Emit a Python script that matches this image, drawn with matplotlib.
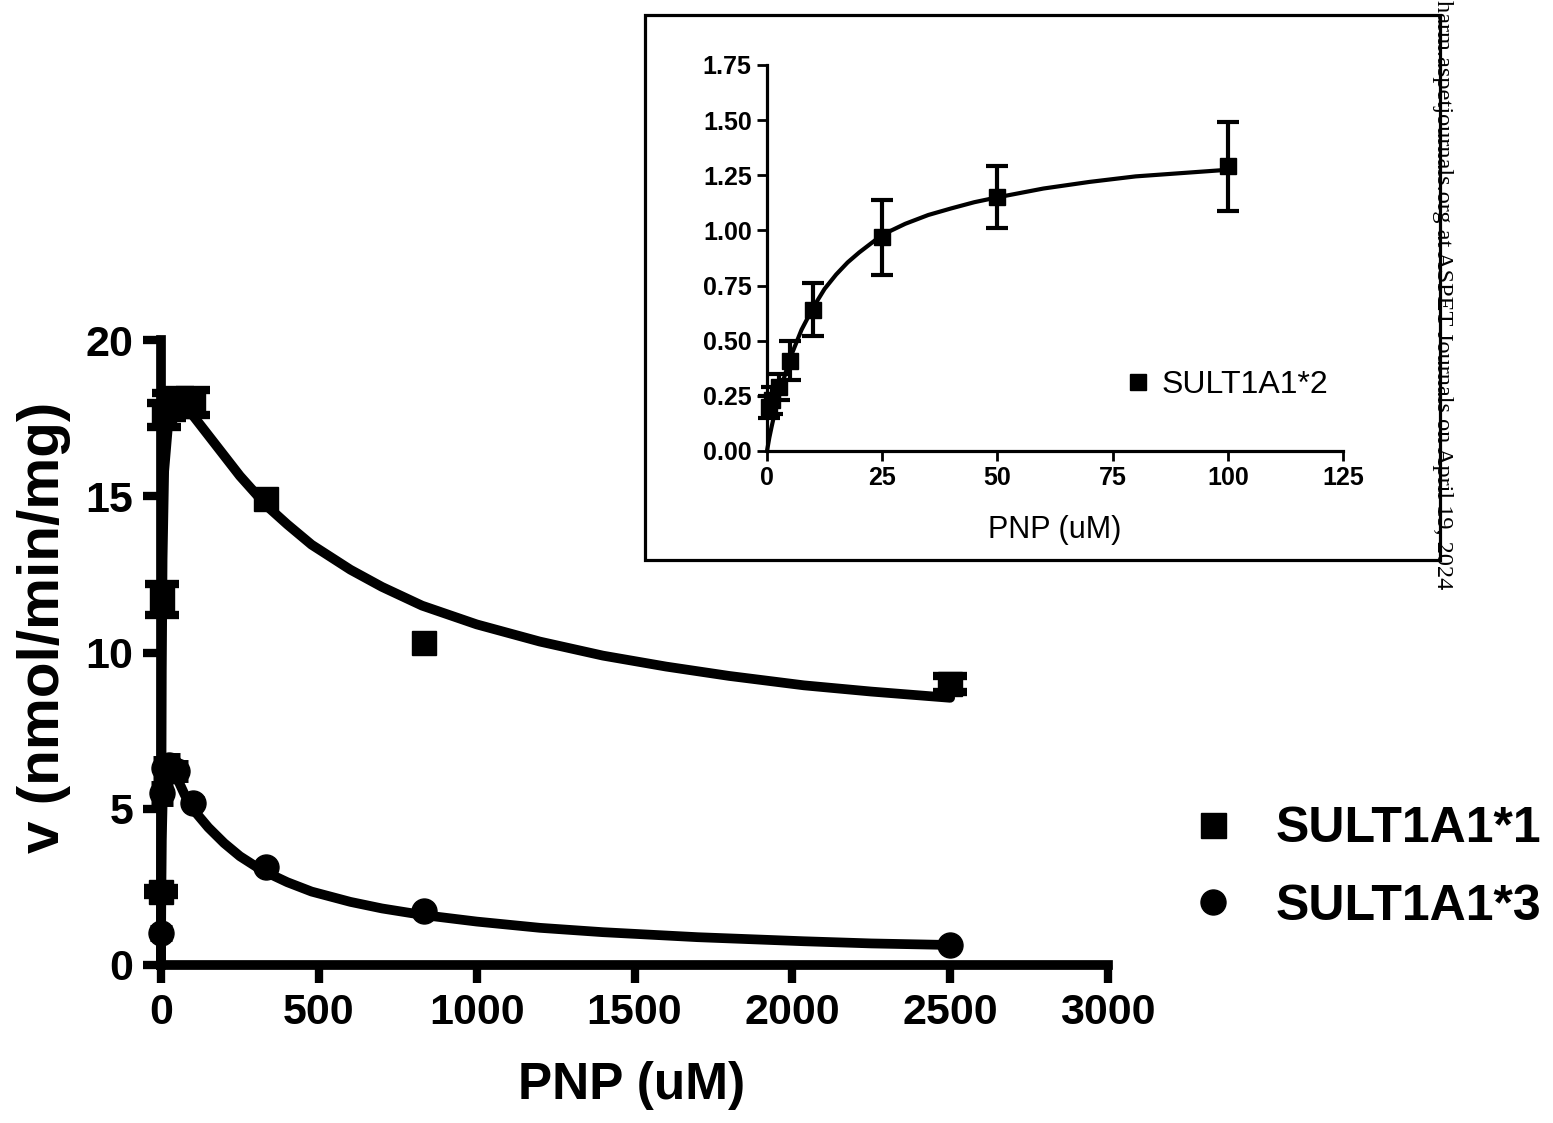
import matplotlib
matplotlib.use('Agg')
import matplotlib.pyplot as plt
from matplotlib.lines import Line2D
from matplotlib.patches import Rectangle

plt.rcParams['font.family'] = ['Liberation Sans', 'DejaVu Sans']

# main plot: SULT1A1*1 (squares) and SULT1A1*3 (circles)
pnp = [0.5, 2.5, 10, 25, 50, 100, 333, 833, 2500]
v_star1 = [2.35, 11.7, 17.6, 17.9, 18.0, 18.0, 14.9, 10.3, 9.0]
err_star1 = [0.1, 0.5, 0.4, 0.4, 0.4, 0.4, 0.0, 0.0, 0.25]
v_star3 = [1.03, 5.5, 6.3, 6.4, 6.2, 5.2, 3.14, 1.72, 0.64]
err_star3 = [0.15, 0.3, 0.3, 0.3, 0.25, 0.1, 0.1, 0.1, 0.1]

# fitted curves
fit1_x = [0, 0.5, 1, 2.5, 5, 10, 25, 50, 75, 100, 150, 200, 250, 334, 400, 477,
          600, 700, 827, 1000, 1200, 1400, 1600, 1800, 2036, 2250, 2500]
fit1_y = [0, 2.6, 4.7, 9.4, 13.0, 15.8, 17.6, 18.0, 17.9, 17.6, 16.95, 16.3, 15.65,
          14.7, 14.1, 13.45, 12.65, 12.1, 11.5, 10.9, 10.35, 9.9, 9.55, 9.25, 8.95, 8.75, 8.55]
fit3_x = [0, 0.5, 1, 2.5, 5, 10, 25, 50, 75, 100, 150, 200, 250, 318, 400, 477,
          600, 700, 830, 1000, 1200, 1400, 1700, 2036, 2250, 2500]
fit3_y = [0, 1.3, 2.3, 4.0, 5.1, 5.8, 6.2, 6.0, 5.45, 5.0, 4.4, 3.9, 3.48, 3.04, 2.65,
          2.35, 2.02, 1.81, 1.6, 1.39, 1.19, 1.05, 0.89, 0.76, 0.69, 0.64]

# inset: SULT1A1*2
pnp2 = [0.5, 1, 2.5, 5, 10, 25, 50, 100]
v_star2 = [0.20, 0.23, 0.29, 0.41, 0.64, 0.97, 1.15, 1.29]
err_star2 = [0.05, 0.06, 0.06, 0.09, 0.12, 0.17, 0.14, 0.20]
fit2_x = [0, 0.5, 1, 2.5, 5, 7.5, 10, 12.5, 15, 17.5, 20, 25, 30, 35, 40, 45, 50,
          60, 70, 80, 90, 100]
fit2_y = [0, 0.06, 0.11, 0.25, 0.42, 0.55, 0.65, 0.735, 0.80, 0.855, 0.90, 0.98,
          1.03, 1.07, 1.10, 1.128, 1.15, 1.19, 1.22, 1.245, 1.26, 1.275]

W, H = 1553, 1123
fig = plt.figure(figsize=(W / 100, H / 100), dpi=100)

def box(l, t, r, b):
    return [l / W, 1 - b / H, (r - l) / W, (b - t) / H]

def with_err(xs, ys, es):
    keep = [i for i in range(len(xs)) if es[i] > 0]
    return [xs[i] for i in keep], [ys[i] for i in keep], [es[i] for i in keep]

ax = fig.add_axes(box(161, 340, 1108, 965))
ax.plot(fit1_x, fit1_y, color='black', lw=7, clip_on=False, solid_capstyle='round')
ax.plot(fit3_x, fit3_y, color='black', lw=7, clip_on=False, solid_capstyle='round')
ex, ey, ee = with_err(pnp, v_star1, err_star1)
ax.errorbar(ex, ey, yerr=ee, fmt='none', ecolor='black',
            elinewidth=5, capsize=12, capthick=6, clip_on=False)
ax.plot(pnp, v_star1, 's', color='black', ms=17, clip_on=False)
ex, ey, ee = with_err(pnp, v_star3, err_star3)
ax.errorbar(ex, ey, yerr=ee, fmt='none', ecolor='black',
            elinewidth=5, capsize=8, capthick=5, clip_on=False)
ax.plot(pnp, v_star3, 'o', color='black', ms=18, clip_on=False)
ax.set_xlim(0, 3000)
ax.set_ylim(0, 20)
ax.set_xticks(range(0, 3001, 500))
ax.set_yticks(range(0, 21, 5))
for s in ['top', 'right']:
    ax.spines[s].set_visible(False)
for s in ['left', 'bottom']:
    ax.spines[s].set_linewidth(7)
ax.tick_params(direction='out', length=13, width=6, labelsize=31, pad=7)
for lab in ax.get_xticklabels() + ax.get_yticklabels():
    lab.set_fontweight('bold')

fig.text(632 / W, 1 - 1085 / H, 'PNP (uM)', fontsize=37, fontweight='bold',
         ha='center', va='center')
fig.text(44 / W, 1 - 627 / H, 'v (nmol/min/mg)', fontsize=42, fontweight='bold',
         ha='center', va='center', rotation=90)

handles = [Line2D([], [], marker='s', ls='none', color='black', ms=18),
           Line2D([], [], marker='o', ls='none', color='black', ms=18)]
fig.legend(handles, ['SULT1A1*1', 'SULT1A1*3'], loc='center left',
           bbox_to_anchor=(1188 / W, 1 - 868 / H), frameon=False, borderpad=0,
           borderaxespad=0, handlelength=1.0, handletextpad=0.75, labelspacing=0.62,
           prop={'size': 36, 'weight': 'bold'})

# inset frame
fig.add_artist(Rectangle((645 / W, 1 - 560 / H), 795 / W, 545 / H,
                         transform=fig.transFigure, fill=True, facecolor='white',
                         edgecolor='black', lw=2.3, zorder=1))

ins = fig.add_axes(box(767, 65, 1343, 451))
ins.set_zorder(2)
ins.patch.set_alpha(0)
ins.plot(fit2_x, fit2_y, color='black', lw=3, clip_on=False)
ins.errorbar(pnp2, v_star2, yerr=err_star2, fmt='s', color='black', ms=11,
             elinewidth=3, capsize=8, capthick=3, clip_on=False)
ins.set_xlim(0, 125)
ins.set_ylim(0, 1.75)
ins.set_xticks(range(0, 126, 25))
ins.set_yticks([0, 0.25, 0.5, 0.75, 1.0, 1.25, 1.5, 1.75])
ins.set_yticklabels(['0.00', '0.25', '0.50', '0.75', '1.00', '1.25', '1.50', '1.75'])
for s in ['top', 'right']:
    ins.spines[s].set_visible(False)
for s in ['left', 'bottom']:
    ins.spines[s].set_linewidth(2.3)
ins.tick_params(direction='out', length=7, width=2, labelsize=18, pad=4)
for lab in ins.get_xticklabels() + ins.get_yticklabels():
    lab.set_fontweight('bold')
fig.text(1055 / W, 1 - 530 / H, 'PNP (uM)', fontsize=22, ha='center', va='center')
ins.legend([Line2D([], [], marker='s', ls='none', color='black', ms=11)], ['SULT1A1*2'],
           loc='center left', bbox_to_anchor=(0.6215, 0.171), frameon=False,
           borderpad=0, borderaxespad=0, handlelength=0.8, handletextpad=0.34,
           prop={'size': 23})

# watermark along the right edge
fig.text(1443 / W, 1.0, 'harm.aspetjournals.org at ASPET Journals on April 19, 2024',
         family=['Liberation Serif', 'DejaVu Serif'], fontsize=17.5, rotation=-90,
         ha='center', va='top', zorder=5)

fig.savefig('out.png', dpi=100)
